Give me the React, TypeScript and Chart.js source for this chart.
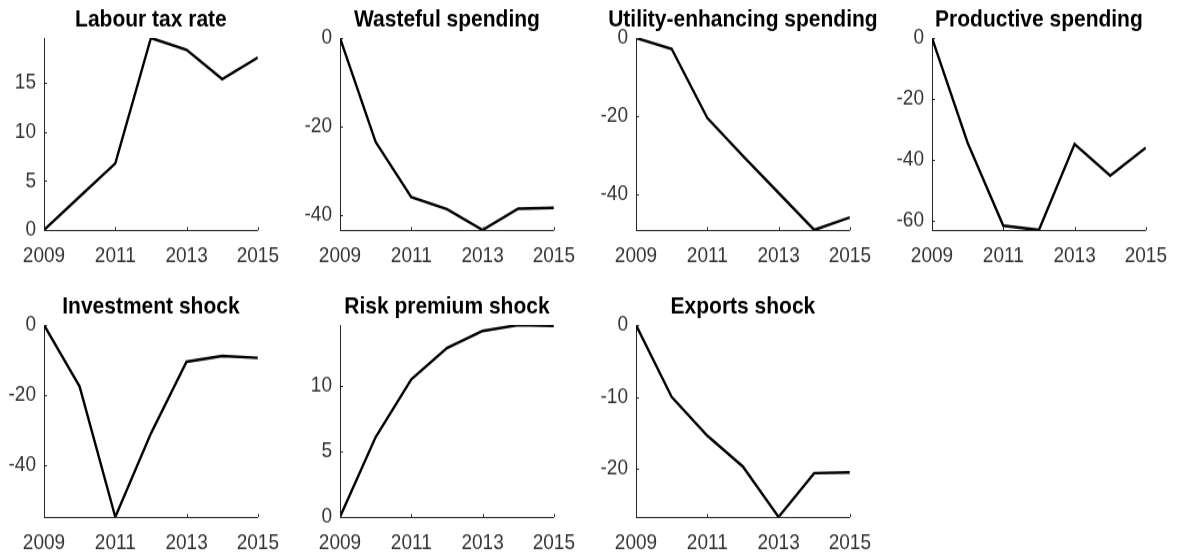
import React, { useEffect, useRef } from "react";
import { Chart, registerables } from "chart.js";

Chart.register(...registerables);

const years = [2009, 2010, 2011, 2012, 2013, 2014, 2015];
const xTickYears = [2009, 2011, 2013, 2015];

const titles = [
  "Labour tax rate",
  "Wasteful spending",
  "Utility-enhancing spending",
  "Productive spending",
  "Investment shock",
  "Risk premium shock",
  "Exports shock",
];

const labourTax = [0, 3.4, 6.8, 19.6, 18.4, 15.4, 17.6];
const wasteful = [0, -23.5, -36.0, -38.7, -43.4, -38.6, -38.4];
const utility = [0, -2.8, -20.5, -30.2, -39.7, -49.2, -46.0];
const productive = [0, -34.4, -61.6, -63.0, -34.8, -45.2, -36.0];
const investment = [0, -17.6, -54.9, -31.0, -10.5, -8.9, -9.4];
const riskPremium = [0, 6.1, 10.5, 12.9, 14.2, 14.66, 14.6];
const exportsShock = [0, -10.0, -15.4, -19.7, -26.7, -20.6, -20.5];

const seriesList = [labourTax, wasteful, utility, productive, investment, riskPremium, exportsShock];
const yStepSizes = [5, 20, 20, 20, 20, 5, 10];

// internal (unstretched) canvas metrics; the figure is stretched vertically by STRETCH
const AXIS_W = 44;
const PLOT_W = 216;
const TOP_PAD = 33;
const PLOT_H = 167;
const BOTTOM_H = 39;
const RIGHT_PAD = 30;
const STRETCH = 192 / 167;
const COL_GAP = 296;
const ROW_GAP = 287;
const FIRST_LEFT = 0;
const FIRST_TOP = 0;

const FONT = "'Liberation Sans', Arial, Helvetica, sans-serif";

const decorPlugin = {
  id: "decor",
  afterDraw(chart: any, _args: any, opts: any) {
    const { ctx, chartArea } = chart;
    const xs = chart.scales.x;
    const ys = chart.scales.y;
    ctx.save();
    ctx.strokeStyle = "#262626";
    ctx.lineWidth = 1;
    ctx.beginPath();
    xs.ticks.forEach((t: any) => {
      const px = Math.round(xs.getPixelForValue(t.value)) + 0.5;
      ctx.moveTo(px, chartArea.bottom);
      ctx.lineTo(px, chartArea.bottom - 2.5);
    });
    ys.ticks.forEach((t: any) => {
      const py = Math.round(ys.getPixelForValue(t.value)) + 0.5;
      ctx.moveTo(chartArea.left, py);
      ctx.lineTo(chartArea.left + 3, py);
    });
    ctx.stroke();
    ctx.fillStyle = "#000";
    ctx.font = `bold 21px ${FONT}`;
    ctx.textAlign = "center";
    ctx.textBaseline = "alphabetic";
    ctx.fillText(opts.text, (chartArea.left + chartArea.right) / 2, chartArea.top - 10.5);
    ctx.restore();
  },
};

function Panel({ index }: { index: number }) {
  const ref = useRef<HTMLCanvasElement | null>(null);
  const data = seriesList[index];
  const col = index % 4;
  const row = Math.floor(index / 4);
  const left = FIRST_LEFT + col * COL_GAP;
  const top = FIRST_TOP + row * ROW_GAP;
  const w = AXIS_W + PLOT_W + RIGHT_PAD;
  const h = TOP_PAD + PLOT_H + BOTTOM_H;

  useEffect(() => {
    if (!ref.current) return;
    const yMin = Math.min(...data);
    const yMax = Math.max(...data);
    const chart = new Chart(ref.current, {
      type: "line",
      data: {
        datasets: [
          {
            data: years.map((yr, i) => ({ x: yr, y: data[i] })),
            borderColor: "#000",
            borderWidth: 2.4,
            pointRadius: 0,
            tension: 0,
            fill: false,
          },
        ],
      },
      options: {
        animation: false,
        responsive: false,
        events: [],
        layout: { padding: { top: TOP_PAD, right: RIGHT_PAD, left: 0, bottom: 0 } },
        plugins: {
          legend: { display: false },
          tooltip: { enabled: false },
          title: { display: false },
          decor: { text: titles[index] },
        } as any,
        scales: {
          x: {
            type: "linear",
            min: years[0],
            max: years[years.length - 1],
            afterBuildTicks: (scale: any) => {
              scale.ticks = xTickYears.map((v) => ({ value: v }));
            },
            grid: { display: false, drawTicks: false },
            border: { display: true, color: "#262626", width: 1 },
            ticks: {
              callback: (v: any) => String(v),
              font: { family: FONT, size: 19 },
              color: "#333",
              padding: 11,
              maxRotation: 0,
              autoSkip: false,
            },
            afterFit: (scale: any) => {
              scale.height = BOTTOM_H;
            },
          },
          y: {
            type: "linear",
            min: yMin,
            max: yMax,
            grid: { display: false, drawTicks: false },
            border: { display: true, color: "#262626", width: 1 },
            ticks: {
              stepSize: yStepSizes[index],
              includeBounds: false,
              font: { family: FONT, size: 19 },
              color: "#333",
              padding: 8,
              callback: (v: any) => String(v),
            },
            afterFit: (scale: any) => {
              scale.width = AXIS_W;
            },
          },
        },
      },
      plugins: [decorPlugin],
    });
    return () => chart.destroy();
  }, [index]);

  return (
    <div
      style={{
        position: "absolute",
        left,
        top,
        width: w,
        height: h,
        transform: `scaleY(${STRETCH})`,
        transformOrigin: "0 0",
      }}
    >
      <canvas ref={ref} width={w} height={h} style={{ width: w, height: h, display: "block" }} />
    </div>
  );
}

export default function App() {
  return (
    <div
      style={{
        position: "fixed",
        left: 0,
        top: 0,
        width: 1182,
        height: 558,
        background: "#fff",
        overflow: "hidden",
      }}
    >
      {titles.map((_, i) => (
        <Panel key={i} index={i} />
      ))}
    </div>
  );
}
